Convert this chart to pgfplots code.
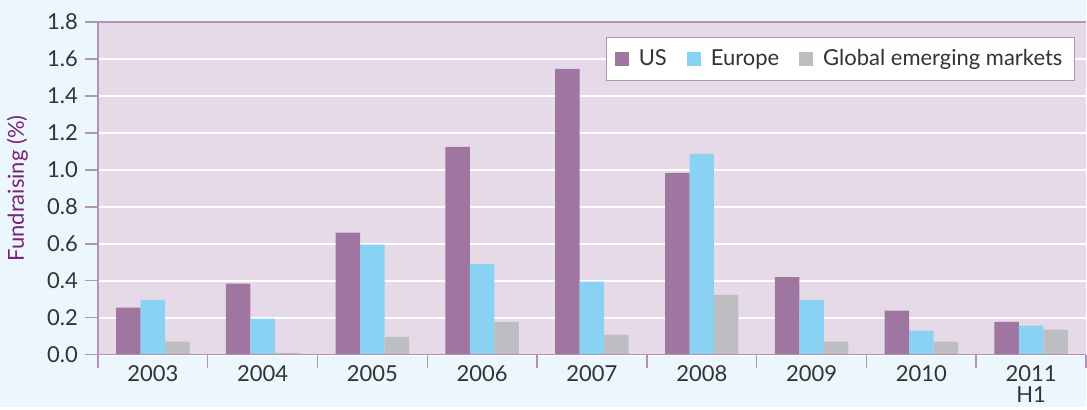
\documentclass[border=0pt]{standalone}
\usepackage{fontspec}
\setmainfont{Lato}
\usepackage{pgfplots}
\pgfplotsset{compat=1.18}
\definecolor{outerbg}{HTML}{EBF6FD}
\definecolor{plotbg}{HTML}{E7DAE8}
\definecolor{uscol}{HTML}{9F76A0}
\definecolor{eucol}{HTML}{89D2F4}
\definecolor{gemcol}{HTML}{BDBEC1}
\definecolor{axcol}{HTML}{B591BA}
\definecolor{labcol}{HTML}{7B2276}
\definecolor{txtcol}{HTML}{333333}
\begin{document}
\begin{tikzpicture}
\fill[outerbg] (-49pt,-26pt) rectangle (494.5pt,177.5pt);
\begin{axis}[
  scale only axis,
  width=494.5pt, height=166.5pt,
  xmin=-0.5, xmax=8.5,
  ymin=0, ymax=1.8,
  ybar=0pt, bar width=12.25pt,
  axis background/.style={fill=plotbg},
  axis line style={draw=none},
  xtick={0,...,8},
  xticklabels={2003,2004,2005,2006,2007,2008,2009,2010,{2011\\H1}},
  major x tick style={draw=none},
  minor xtick={-0.5,0.5,...,8.5},
  minor x tick style={draw=axcol, line width=0.75pt},
  minor tick length=6.5pt,
  xtick pos=bottom, ytick pos=left,
  tick align=outside,
  ytick={0,0.2,...,1.8},
  major tick length=6.5pt,
  y tick style={draw=axcol, line width=0.75pt},
  ymajorgrids,
  grid style={white, line width=1pt},
  yticklabel style={/pgf/number format/.cd, fixed, fixed zerofill, precision=1, /tikz/.cd, text=txtcol, font=\fontsize{11pt}{10.5pt}\selectfont},
  /pgf/number format/assume math mode=true,
  xticklabel style={align=center, text=txtcol, font=\fontsize{11pt}{10.5pt}\selectfont, yshift=4.5pt},
  ylabel={Fundraising (\%)},
  every axis y label/.style={at={(axis description cs:-0.0815,0.5)}, rotate=90, anchor=center, text=labcol, font=\fontsize{11pt}{12pt}\selectfont},
  legend columns=3,
  legend style={at={(rel axis cs:1,1)}, anchor=north east, xshift=-5.5pt, yshift=-7.5pt, draw=axcol, line width=0.6pt, fill=white, font=\fontsize{11pt}{12pt}\selectfont, text=txtcol, inner ysep=4pt, inner xsep=4pt,
    /tikz/every odd column/.append style={column sep=3pt},
    /tikz/every even column/.append style={column sep=8pt}},
  legend image code/.code={\fill[#1] (0pt,-3.5pt) rectangle (7pt,3.5pt);},
  clip=false,
]
\addplot[fill=uscol, draw=none] coordinates {(0,0.254) (1,0.384) (2,0.66) (3,1.124) (4,1.546) (5,0.984) (6,0.42) (7,0.238) (8,0.178)};
\addplot[fill=eucol, draw=none] coordinates {(0,0.297) (1,0.195) (2,0.595) (3,0.49) (4,0.395) (5,1.086) (6,0.297) (7,0.13) (8,0.157)};
\addplot[fill=gemcol, draw=none] coordinates {(0,0.07) (1,0.01) (2,0.097) (3,0.178) (4,0.108) (5,0.324) (6,0.07) (7,0.07) (8,0.135)};
\legend{US,Europe,Global emerging markets}
\draw[axcol, line width=0.75pt] (rel axis cs:0,1) -- (rel axis cs:1,1);
\draw[axcol, line width=0.75pt] (rel axis cs:0,0) -- (rel axis cs:1,0);
\draw[axcol, line width=0.75pt] (rel axis cs:0,0) -- (rel axis cs:0,1);
\end{axis}
\end{tikzpicture}
\end{document}
